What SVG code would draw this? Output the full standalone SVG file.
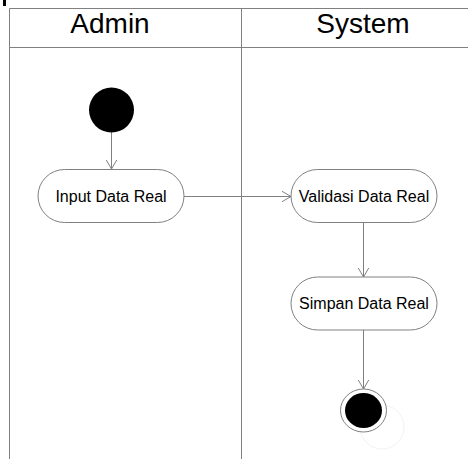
<svg xmlns="http://www.w3.org/2000/svg" width="468" height="459" viewBox="0 0 468 459">
<defs>
<style>
.lane{fill:none;stroke:#808080;stroke-width:1}
.act{fill:#fff;stroke:#808080;stroke-width:1}
.edge{fill:none;stroke:#808080;stroke-width:1}
.head{font-family:"Liberation Sans",Arial,sans-serif;font-size:28px;fill:#000;text-anchor:middle}
.lbl{font-family:"Liberation Sans",Arial,sans-serif;font-size:16px;fill:#000;text-anchor:middle}
</style>
<marker id="arr" viewBox="0 0 10 12" refX="9.5" refY="6" markerWidth="10" markerHeight="12" markerUnits="userSpaceOnUse" orient="auto">
<path d="M0,0.5 L9.5,6 L0,11.5" fill="none" stroke="#808080" stroke-width="1"/>
</marker>
</defs>
<rect x="0" y="0" width="468" height="459" fill="#fff"/>
<rect x="3" y="0" width="3" height="6" fill="#000"/>
<g id="swimlanes">
<path class="lane" d="M9.5,459 V8.5 H468 M9.5,47.5 H468 M241.5,8.5 V459"/>
<text class="head" x="110" y="33">Admin</text>
<text class="head" x="363" y="33">System</text>
</g>
<g id="connectors">
<line class="edge" x1="111.5" y1="132" x2="111.5" y2="169" marker-end="url(#arr)"/>
<line class="edge" x1="184" y1="196.5" x2="291" y2="196.5" marker-end="url(#arr)"/>
<line class="edge" x1="363.5" y1="223" x2="363.5" y2="277" marker-end="url(#arr)"/>
<line class="edge" x1="363.5" y1="330" x2="363.5" y2="389" marker-end="url(#arr)"/>
</g>
<g id="start">
<circle cx="111.5" cy="110" r="22.5" fill="#000"/>
</g>
<g id="input-data-real">
<rect class="act" x="38" y="169.5" width="146" height="53" rx="26.5"/>
<text class="lbl" x="111" y="201.5">Input Data Real</text>
</g>
<g id="validasi-data-real">
<rect class="act" x="291" y="169.5" width="146" height="53" rx="26.5"/>
<text class="lbl" x="364" y="201.5">Validasi Data Real</text>
</g>
<g id="simpan-data-real">
<rect class="act" x="291" y="277" width="146" height="53" rx="26.5"/>
<text class="lbl" x="364" y="308.5">Simpan Data Real</text>
</g>
<g id="end">
<circle cx="382" cy="427" r="22" fill="none" stroke="#f2f2f2" stroke-width="1"/>
<ellipse cx="363.5" cy="410.5" rx="23" ry="21.5" fill="#fff" stroke="#808080" stroke-width="1"/>
<ellipse cx="363.5" cy="410.5" rx="18.5" ry="17.5" fill="#000"/>
</g>
</svg>
